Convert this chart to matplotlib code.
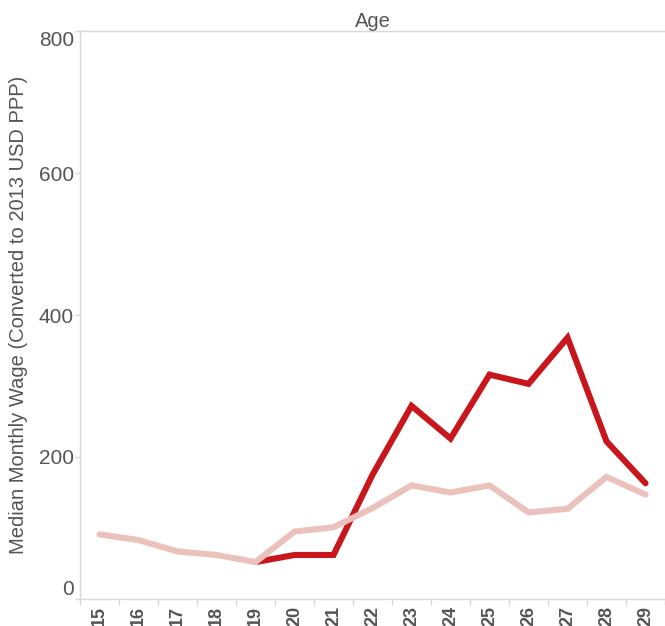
import numpy as np
import matplotlib
matplotlib.use("Agg")
import matplotlib.pyplot as plt

plt.rcParams['font.family'] = ['Liberation Sans', 'DejaVu Sans']

ages = ['15', '16', '17', '18', '19', '20', '21', '22', '23', '24', '25', '26', '27', '28', '29']

# light series covers every age, dark one starts at 19
wage_light = [91, 83, 67, 62, 52, 95, 101, 128, 160, 150, 160, 122, 127, 172, 147]
wage_dark = [None, None, None, None, 52, 62, 62, 175, 272, 226, 316, 303, 368, 222, 163]

text_col = '#555555'
axis_col = '#d9d9d9'

fig = plt.figure(figsize=(6.65, 6.26), dpi=100)
ax = fig.add_axes([80 / 665, 1 - 599 / 626, 585 / 665, 568 / 626])

x = np.arange(len(ages))
dark = np.array([np.nan if v is None else v for v in wage_dark], dtype=float)
ax.plot(x, dark, color='#c8161d', lw=4.4, solid_capstyle='round',
        solid_joinstyle='miter', zorder=2)
ax.plot(x, wage_light, color='#ebc1bc', lw=4.4, solid_capstyle='round',
        solid_joinstyle='miter', zorder=3)

ax.set_xlim(-0.5, len(ages) - 0.5)
ax.set_ylim(0, 796)

ax.set_yticks([0, 200, 400, 600, 800])
ax.set_yticklabels(['0', '200', '400', '600', '800'], fontsize=15, color=text_col)
ax.set_xticks(x)
ax.set_xticklabels(ages, rotation=90, fontsize=13, fontweight='bold', color=text_col)
ax.set_xticks(np.arange(len(ages) + 1) - 0.5, minor=True)
ax.tick_params(axis='x', which='major', length=0, pad=5)
ax.tick_params(axis='x', which='minor', length=4, color=axis_col, width=1)
ax.tick_params(axis='y', length=3.5, color=axis_col, width=1, pad=1)

# keep the end labels inside the axis like the original
labs = ax.get_yticklabels()
labs[0].set_va('bottom')
labs[-1].set_va('top')

for s in ['left', 'bottom', 'top']:
    ax.spines[s].set_color(axis_col)
    ax.spines[s].set_linewidth(1)
ax.spines['right'].set_visible(False)

ax.set_ylabel('Median Monthly Wage (Converted to 2013 USD PPP)', fontsize=14.5,
              color=text_col, labelpad=8)
ax.set_title('Age', fontsize=14.5, color=text_col, pad=3)

fig.savefig('out.png', dpi=100)
